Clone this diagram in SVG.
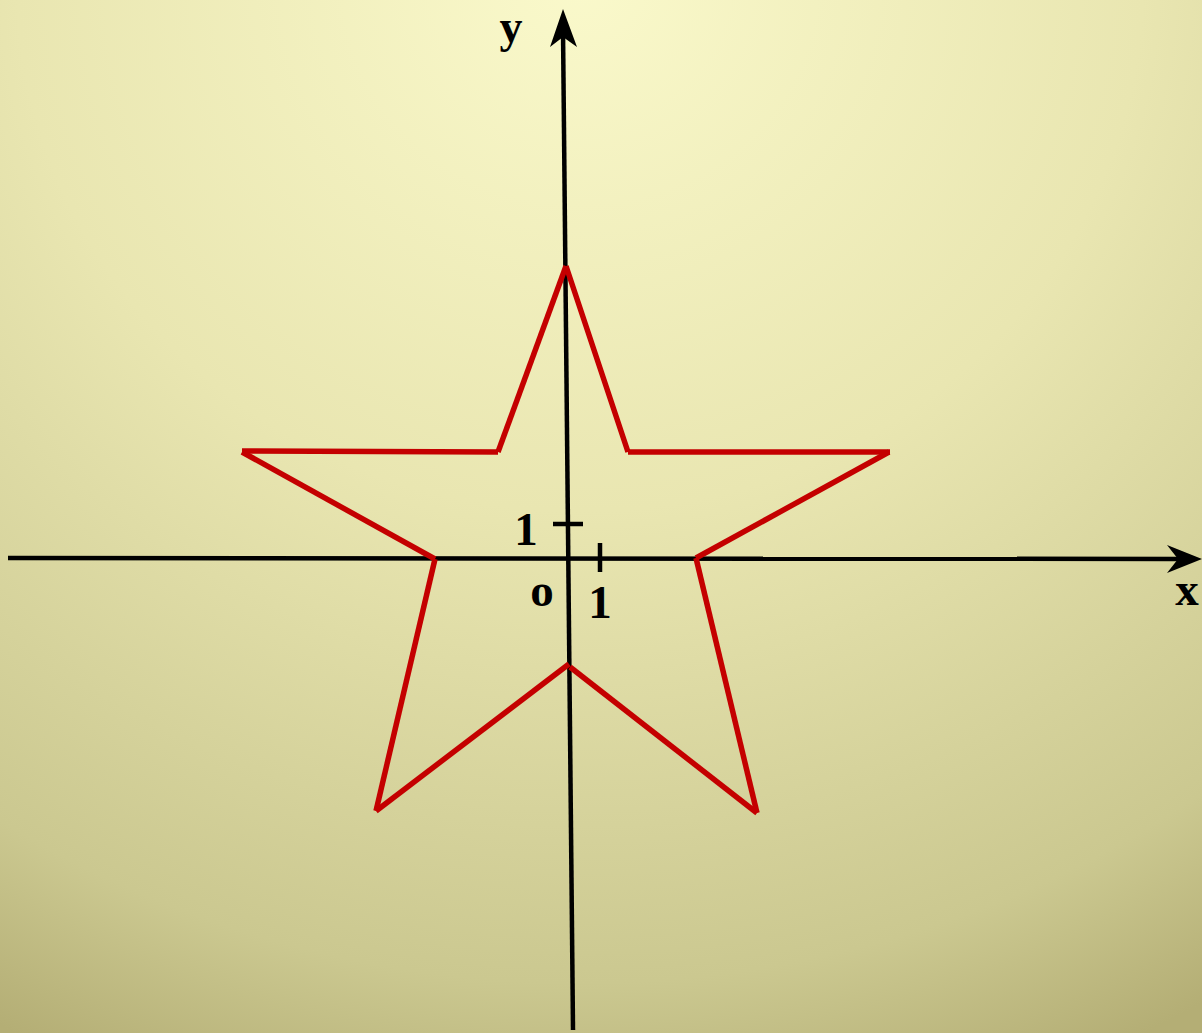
<svg xmlns="http://www.w3.org/2000/svg" width="1202" height="1033" viewBox="0 0 1202 1033">
<style>
.axis{stroke:#000;stroke-width:4.5;fill:none}
.head{fill:#000;stroke:none}
.star{stroke:#c40000;stroke-width:5.5;fill:none;stroke-linecap:butt}
.lbl{font-family:"Liberation Serif","Times New Roman",serif;font-weight:bold;font-size:47px;fill:#000;text-anchor:middle}
</style>
<defs>
<radialGradient id="bg" gradientUnits="userSpaceOnUse" cx="0" cy="0" r="1" gradientTransform="translate(580,-20) scale(1250,1180)">
<stop offset="0" stop-color="#faf9cb"/>
<stop offset="0.45" stop-color="#e9e6b1"/>
<stop offset="0.85" stop-color="#cbc890"/>
<stop offset="1" stop-color="#b4ae75"/>
</radialGradient>
</defs>
<rect x="0" y="0" width="1202" height="1033" fill="url(#bg)"/>
<g id="axes">
<line class="axis" x1="8" y1="558" x2="1180" y2="559"/>
<path class="head" d="M1202,559 L1167,545 L1178,559 L1167,573 Z"/>
<line class="axis" x1="563" y1="30" x2="573" y2="1030"/>
<path class="head" d="M563,9 L577,47 L563,37 L550,47 Z"/>
<line class="axis" x1="553" y1="524" x2="583" y2="524"/>
<line class="axis" x1="600" y1="543" x2="600" y2="572"/>
</g>
<g id="labels">
<text class="lbl" x="511" y="41.5" style="font-size:46px">y</text>
<text class="lbl" x="1187" y="605">x</text>
<text class="lbl" x="526" y="545">1</text>
<text class="lbl" x="542" y="606">o</text>
<text class="lbl" x="600" y="618">1</text>
</g>
<g id="star">
<line class="star" x1="566" y1="266" x2="628" y2="452"/>
<line class="star" x1="628" y1="452" x2="890" y2="452"/>
<line class="star" x1="889" y1="452" x2="696" y2="558"/>
<line class="star" x1="696" y1="558" x2="757" y2="813"/>
<line class="star" x1="757" y1="813" x2="570" y2="667"/>
<line class="star" x1="569" y1="664" x2="376" y2="811"/>
<line class="star" x1="376" y1="811" x2="435" y2="559"/>
<line class="star" x1="435" y1="559" x2="242" y2="452"/>
<line class="star" x1="242" y1="451" x2="498" y2="452"/>
<line class="star" x1="498" y1="452" x2="566" y2="266"/>
</g>
</svg>
